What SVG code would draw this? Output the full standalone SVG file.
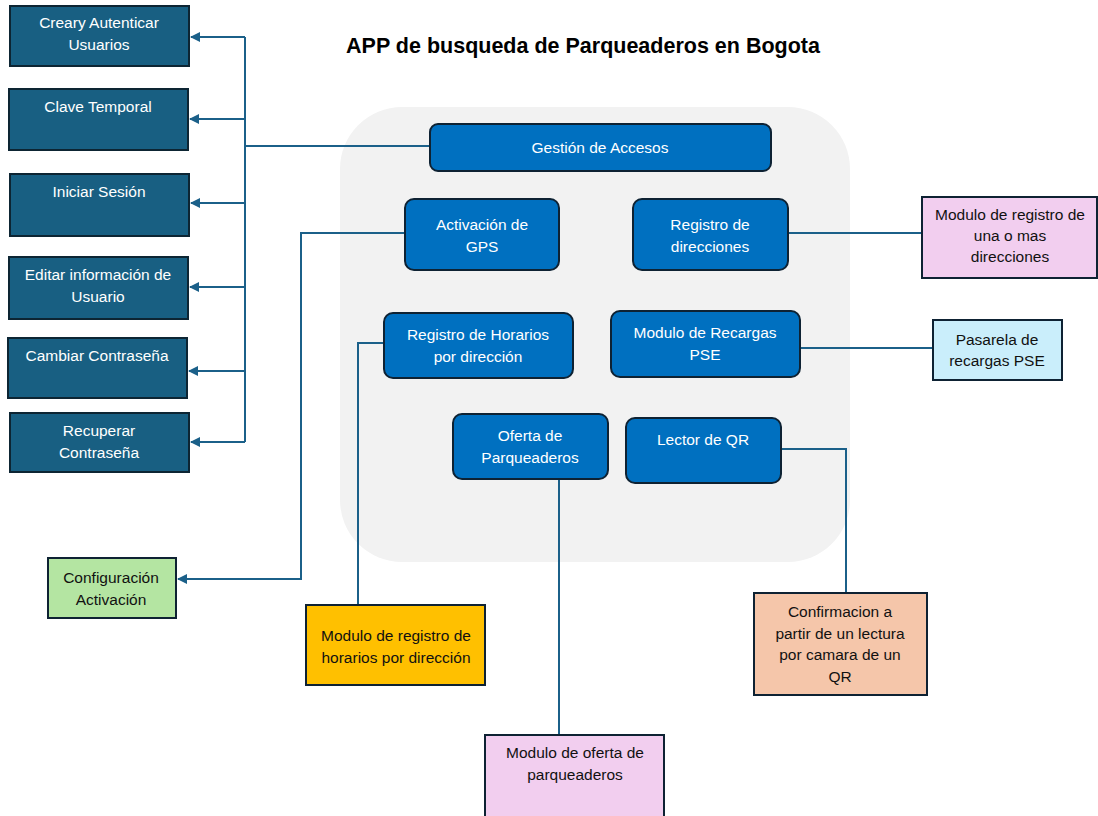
<svg xmlns="http://www.w3.org/2000/svg" width="1098" height="816" viewBox="0 0 1098 816">
<style>
text{font-family:"Liberation Sans",Arial,sans-serif;font-size:15.5px;text-anchor:middle}
.lb rect{fill:#185F82;stroke:#0d2533;stroke-width:2}
.lb text{fill:#ffffff}
.bb rect{fill:#0070C0;stroke:#0e2233;stroke-width:2}
.bb text{fill:#ffffff}
.cb rect{stroke:#0e2233;stroke-width:2}
.cb text{fill:#111111}
.con path{fill:none;stroke:#1b6089;stroke-width:2}
</style>
<defs>
<marker id="ah" viewBox="0 0 10 10" refX="9" refY="5" markerWidth="5" markerHeight="5" orient="auto-start-reverse" markerUnits="strokeWidth">
<path d="M0,0 L10,5 L0,10 z" fill="#1b6089"/>
</marker>
</defs>
<rect width="1098" height="816" fill="#ffffff"/>
<text x="583" y="53" style="font-size:21.5px;font-weight:bold" fill="#000">APP de busqueda de Parqueaderos en Bogota</text>
<rect id="container" x="340" y="107" width="510" height="455" rx="62" fill="#f2f2f2"/>

<g class="con">
<path d="M245,37 V442"/>
<path d="M245,37 H191" marker-end="url(#ah)"/>
<path d="M245,119 H190" marker-end="url(#ah)"/>
<path d="M245,203 H191" marker-end="url(#ah)"/>
<path d="M245,287 H190" marker-end="url(#ah)"/>
<path d="M245,371 H189" marker-end="url(#ah)"/>
<path d="M245,442 H191" marker-end="url(#ah)"/>
<path d="M245,146 H430"/>
<path d="M405,233 H301 V579 H178" marker-end="url(#ah)"/>
<path d="M384,343 H358 V605"/>
<path d="M559,479 V735"/>
<path d="M781,449 H846 V593"/>
<path d="M788,233 H922"/>
<path d="M800,348 H933"/>
</g>

<g id="n-crear" class="lb"><rect x="10" y="6" width="179" height="60"/><text x="99" y="28">Creary Autenticar</text><text x="99" y="50">Usuarios</text></g>
<g id="n-clave" class="lb"><rect x="9" y="89" width="179" height="61"/><text x="98" y="112">Clave Temporal</text></g>
<g id="n-iniciar" class="lb"><rect x="10" y="174" width="179" height="62"/><text x="99" y="197">Iniciar Sesión</text></g>
<g id="n-editar" class="lb"><rect x="9" y="257" width="179" height="62"/><text x="98" y="280">Editar información de</text><text x="98" y="302">Usuario</text></g>
<g id="n-cambiar" class="lb"><rect x="8" y="338" width="179" height="60"/><text x="97" y="361">Cambiar Contraseña</text></g>
<g id="n-recuperar" class="lb"><rect x="10" y="413" width="179" height="59"/><text x="99" y="436">Recuperar</text><text x="99" y="458">Contraseña</text></g>

<g id="n-gestion" class="bb"><rect x="430" y="124" width="341" height="47" rx="8"/><text x="600" y="153">Gestión de Accesos</text></g>
<g id="n-gps" class="bb"><rect x="405" y="199" width="154" height="71" rx="9"/><text x="482" y="230">Activación de</text><text x="482" y="252">GPS</text></g>
<g id="n-regdir" class="bb"><rect x="633" y="199" width="155" height="71" rx="9"/><text x="710" y="230">Registro de</text><text x="710" y="252">direcciones</text></g>
<g id="n-reghor" class="bb"><rect x="384" y="313" width="189" height="65" rx="9"/><text x="478" y="340">Registro de Horarios</text><text x="478" y="362">por dirección</text></g>
<g id="n-recargas" class="bb"><rect x="611" y="311" width="189" height="66" rx="9"/><text x="705" y="338">Modulo de Recargas</text><text x="705" y="360">PSE</text></g>
<g id="n-oferta" class="bb"><rect x="453" y="414" width="155" height="65" rx="9"/><text x="530" y="441">Oferta de</text><text x="530" y="463">Parqueaderos</text></g>
<g id="n-lector" class="bb"><rect x="626" y="418" width="155" height="65" rx="9"/><text x="703" y="445">Lector de QR</text></g>

<g id="n-modreg" class="cb"><rect x="922" y="197" width="175" height="81" fill="#F2CEEF"/><text x="1010" y="220">Modulo de registro de</text><text x="1010" y="241">una o mas</text><text x="1010" y="262">direcciones</text></g>
<g id="n-pasarela" class="cb"><rect x="933" y="320" width="129" height="60" fill="#CAEEFB"/><text x="997" y="345">Pasarela de</text><text x="997" y="366">recargas PSE</text></g>
<g id="n-config" class="cb"><rect x="48" y="558" width="128" height="60" fill="#B4E5A2"/><text x="111" y="583">Configuración</text><text x="111" y="605">Activación</text></g>
<g id="n-modhor" class="cb"><rect x="306" y="605" width="179" height="80" fill="#FFC000"/><text x="396" y="641">Modulo de registro de</text><text x="396" y="663">horarios por dirección</text></g>
<g id="n-modofe" class="cb"><rect x="485" y="735" width="179" height="82" fill="#F2CEEF"/><text x="575" y="758">Modulo de oferta de</text><text x="575" y="780">parqueaderos</text></g>
<g id="n-confirm" class="cb"><rect x="754" y="593" width="173" height="102" fill="#F5C6AA"/><text x="840" y="617">Confirmacion a</text><text x="840" y="639">partir de un lectura</text><text x="840" y="660">por camara de un</text><text x="840" y="682">QR</text></g>
</svg>
